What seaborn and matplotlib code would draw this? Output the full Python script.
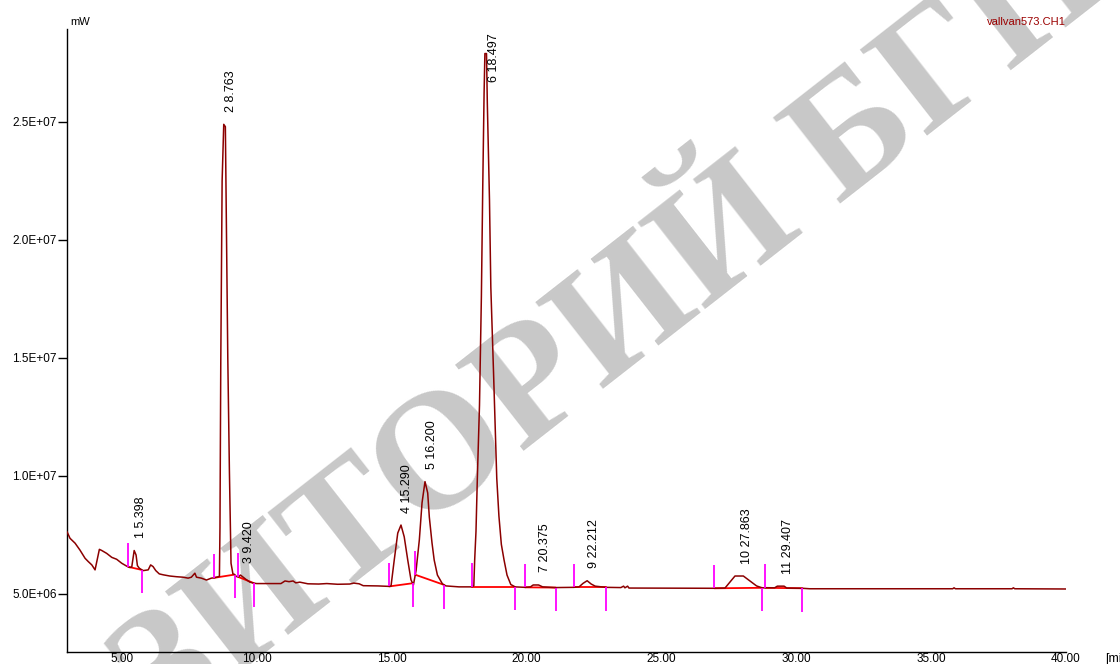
import numpy as np
import pandas as pd
import matplotlib
matplotlib.use("Agg")
import matplotlib.pyplot as plt
from matplotlib.ticker import FuncFormatter
import seaborn as sns

# ---- data ----
time_min = [2.97, 3.08, 3.27, 3.45, 3.64, 3.76, 3.89, 4.01, 4.17, 4.26, 4.44, 4.63, 4.81, 5.00,
            5.18, 5.30, 5.37, 5.46, 5.53, 5.58, 5.65, 5.74, 5.80, 5.98, 6.07, 6.16, 6.26, 6.39,
            6.54, 6.78, 7.03, 7.27, 7.46, 7.58, 7.71, 7.77, 7.95, 8.14, 8.32, 8.41, 8.55, 8.62,
            8.64, 8.67, 8.72, 8.78, 8.84, 8.87, 8.93, 8.99, 9.05, 9.12, 9.18, 9.25, 9.32, 9.40,
            9.48, 9.60, 9.75, 9.89, 10.00, 10.90, 11.05, 11.20, 11.35, 11.45, 11.60, 11.90, 12.30,
            12.60, 13.00, 13.45, 13.60, 13.80, 13.95, 14.50, 14.92, 14.98, 15.10, 15.23, 15.35,
            15.47, 15.60, 15.72, 15.81, 15.91, 16.03, 16.13, 16.24, 16.34, 16.40, 16.50, 16.58,
            16.70, 16.89, 17.02, 17.50, 17.98, 18.05, 18.08, 18.13, 18.18, 18.26, 18.33, 18.38,
            18.43, 18.46, 18.52, 18.55, 18.63, 18.68, 18.78, 18.85, 18.90, 18.98, 19.07, 19.17,
            19.28, 19.42, 19.58, 19.95, 20.15, 20.25, 20.45, 20.60, 21.06, 21.76, 21.95, 22.10,
            22.25, 22.40, 22.55, 22.95, 23.50, 23.60, 23.65, 23.75, 23.80, 26.97, 27.36, 27.73,
            28.04, 28.53, 28.73, 29.20, 29.30, 29.55, 29.65, 30.23, 30.50, 35.80, 35.85, 35.90,
            38.00, 38.05, 38.10, 40.00]
signal = [7.64e6, 7.36e6, 7.15e6, 6.86e6, 6.51e6, 6.37e6, 6.23e6, 6.02e6, 6.89e6, 6.84e6, 6.72e6,
          6.55e6, 6.47e6, 6.30e6, 6.18e6, 6.12e6, 6.14e6, 6.84e6, 6.65e6, 6.20e6, 6.09e6, 6.02e6,
          5.99e6, 6.02e6, 6.23e6, 6.16e6, 5.99e6, 5.85e6, 5.81e6, 5.76e6, 5.73e6, 5.71e6, 5.67e6,
          5.71e6, 5.88e6, 5.71e6, 5.67e6, 5.59e6, 5.67e6, 5.68e6, 5.72e6, 5.75e6, 7.80e6, 1.48e7,
          2.25e7, 2.49e7, 2.48e7, 2.15e7, 1.50e7, 1.02e7, 6.30e6, 5.85e6, 5.82e6, 5.74e6, 5.72e6,
          5.80e6, 5.73e6, 5.62e6, 5.50e6, 5.46e6, 5.44e6, 5.44e6, 5.55e6, 5.52e6, 5.55e6, 5.47e6,
          5.50e6, 5.43e6, 5.42e6, 5.44e6, 5.41e6, 5.42e6, 5.46e6, 5.43e6, 5.35e6, 5.34e6, 5.32e6,
          5.33e6, 6.44e6, 7.58e6, 7.92e6, 7.42e6, 6.44e6, 5.60e6, 5.38e6, 6.00e6, 7.29e6, 8.86e6,
          9.76e6, 9.28e6, 8.26e6, 7.16e6, 6.44e6, 5.80e6, 5.42e6, 5.34e6, 5.30e6, 5.30e6, 5.35e6,
          6.40e6, 7.65e6, 9.90e6, 1.30e7, 1.76e7, 2.22e7, 2.62e7, 2.79e7, 2.79e7, 2.58e7, 2.17e7,
          1.80e7, 1.44e7, 1.17e7, 9.90e6, 8.30e6, 7.10e6, 6.44e6, 5.80e6, 5.40e6, 5.30e6, 5.28e6,
          5.30e6, 5.38e6, 5.38e6, 5.30e6, 5.27e6, 5.28e6, 5.30e6, 5.45e6, 5.56e6, 5.42e6, 5.33e6,
          5.28e6, 5.27e6, 5.33e6, 5.26e6, 5.33e6, 5.25e6, 5.24e6, 5.25e6, 5.76e6, 5.76e6, 5.34e6,
          5.26e6, 5.26e6, 5.33e6, 5.33e6, 5.25e6, 5.24e6, 5.22e6, 5.22e6, 5.26e6, 5.22e6, 5.22e6,
          5.26e6, 5.22e6, 5.21e6]

peak_ids = [1, 2, 3, 4, 5, 6, 7, 9, 10, 11]
peak_rt = [5.398, 8.763, 9.420, 15.290, 16.200, 18.497, 20.375, 22.212, 27.863, 29.407]
event_start = [5.24, 8.42, 9.32, 14.92, 15.88, 17.98, 19.95, 21.76, 26.97, 28.85]
event_end = [5.74, 9.18, 9.89, 15.78, 16.95, 19.58, 21.08, 22.95, 28.75, 30.23]

x_ticks = [5, 10, 15, 20, 25, 30, 35, 40]
y_ticks = [5.0e6, 1.0e7, 1.5e7, 2.0e7, 2.5e7]

df = pd.DataFrame({"time": time_min, "signal": signal})

sns.set_theme(style="white")
plt.rcParams['font.family'] = ['Liberation Sans', 'DejaVu Sans']

W, H = 1120, 664
fig = plt.figure(figsize=(W / 100, H / 100), dpi=100)
fig.patch.set_facecolor("white")
ax = fig.add_axes([67 / W, 12 / H, 999 / W, 623 / H])
ax.set_facecolor("none")

# watermark
ax.text(474 / W, 1 - 439 / H, "РЕПОЗИТОРИЙ БГПУ", transform=fig.transFigure,
        rotation=38, rotation_mode="anchor", ha="center", va="center",
        fontsize=120, color="#C8C8C8", family=["Liberation Serif", "DejaVu Serif"],
        weight="bold", zorder=0, clip_on=False)

t_arr = np.array(time_min)
s_arr = np.array(signal)

# integration baselines
for s, e in zip(event_start, event_end):
    ax.plot([s, e], [np.interp(s, t_arr, s_arr), np.interp(e, t_arr, s_arr)],
            color="#FF0000", lw=1.3, zorder=2)

# chromatogram trace
sns.lineplot(data=df, x="time", y="signal", estimator=None, sort=False,
             color="#8B0000", lw=1.1, ax=ax, zorder=3)

# integration event ticks
tick_len = 1.0e6
for s in event_start:
    v = np.interp(s, t_arr, s_arr)
    ax.vlines(s, v, v + tick_len, color="#FF00FF", lw=1.3, zorder=4)
for e in event_end:
    v = np.interp(e, t_arr, s_arr)
    ax.vlines(e, v - tick_len, v, color="#FF00FF", lw=1.3, zorder=4)

# peak labels
for pid, rt in zip(peak_ids, peak_rt):
    txt = f"{pid} {rt:.3f}"
    if pid == 6:
        ax.annotate(txt, xy=(rt, 1), xycoords=("data", "axes fraction"),
                    xytext=(1.5, -3), textcoords="offset points", rotation=90,
                    ha="left", va="top", fontsize=9, color="black", zorder=5)
    else:
        grid = np.linspace(rt - 0.15, rt + 0.15, 61)
        top = np.interp(grid, t_arr, s_arr).max()
        ax.annotate(txt, xy=(rt, top), xytext=(1.5, 9), textcoords="offset points",
                    rotation=90, ha="left", va="bottom", fontsize=9, color="black", zorder=5)

ax.set_xlim(2.97, 40.0)
ax.set_ylim(2.54e6, 2.894e7)
ax.set_xticks(x_ticks)
ax.set_yticks(y_ticks)
ax.xaxis.set_major_formatter(FuncFormatter(lambda v, p: f"{v:.2f}"))
ax.yaxis.set_major_formatter(FuncFormatter(lambda v, p: f"{v:.1E}"))
ax.tick_params(axis="x", length=0, pad=0.5, labelsize=8.5, colors="black")
ax.tick_params(axis="y", length=6.5, width=1, pad=1, labelsize=8.5, colors="black", left=True)
ax.set_xlabel("")
ax.set_ylabel("")
for side in ["top", "right"]:
    ax.spines[side].set_visible(False)
for side in ["left", "bottom"]:
    ax.spines[side].set_color("black")
    ax.spines[side].set_linewidth(1.0)

fig.text(70 / W, 1 - 22 / H, "mW", fontsize=8, color="black", ha="left", va="center")
fig.text(987 / W, 1 - 22 / H, "vallvan573.CH1", fontsize=8, color="#9B0000",
         ha="left", va="center")
fig.text(1105 / W, 1 - 659 / H, "[min]", fontsize=9, color="black", ha="left", va="center")

fig.savefig("out.png", dpi=100, facecolor="white")
